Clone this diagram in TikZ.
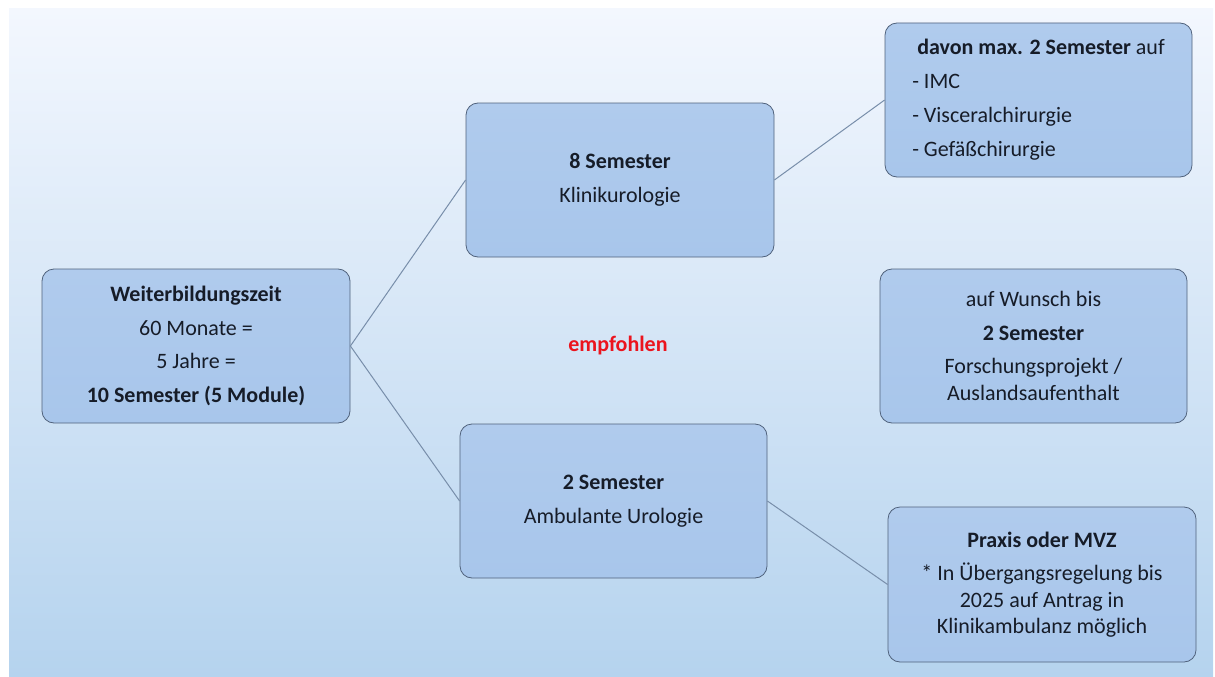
\documentclass[tikz,border=0pt]{standalone}
\usepackage{fontspec}
\setmainfont{Carlito}
\definecolor{bgtop}{RGB}{243,247,254}
\definecolor{bgbot}{RGB}{181,211,238}
\definecolor{boxtop}{RGB}{176,203,237}
\definecolor{boxbot}{RGB}{168,198,235}
\definecolor{boxline}{RGB}{80,98,124}
\definecolor{conn}{RGB}{120,142,170}
\definecolor{txt}{RGB}{22,28,40}
\definecolor{redtxt}{RGB}{235,20,30}
\begin{document}
\begin{tikzpicture}[x=1pt,y=-1pt,
  box/.style={draw=boxline, line width=0.8pt, rounded corners=12pt,
    top color=boxtop, bottom color=boxbot, text=txt,
    font=\fontsize{22}{26.5}\selectfont, align=center, inner sep=0pt,
    minimum width=307pt, minimum height=154pt,
    execute at begin node={\rule{0pt}{22pt}}},
  connector/.style={draw=conn, line width=1pt}]
\useasboundingbox (0,0) rectangle (1215,677);
\shade[top color=bgtop, bottom color=bgbot] (9,9) rectangle (1213,677);

\node[box, minimum width=308pt] (wbz) at (196,346)
  {\textbf{Weiterbildungszeit}\\[7pt]60 Monate =\\[7pt]5 Jahre =\\[7pt]\textbf{10 Semester (5 Module)}};
\node[box, minimum width=308pt] (klinik) at (620,180)
  {\textbf{8 Semester}\\[7pt]Klinikurologie};
\node[box] (ambul) at (613.5,501)
  {\textbf{2 Semester}\\[7pt]Ambulante Urologie};
\node[box, align=left] (davon) at (1038.5,100)
  {\hspace*{5pt}\textbf{davon max. 2 Semester} auf\\[7.5pt]- IMC\\[7.5pt]- Visceralchirurgie\\[7.5pt]- Gefäßchirurgie};
\node[box] (wunsch) at (1033.5,346)
  {auf Wunsch bis\\[7pt]\textbf{2 Semester}\\[7pt]Forschungsprojekt /\\Auslandsaufenthalt};
\node[box, minimum width=308pt, minimum height=155pt] (praxis) at (1042,584.5)
  {\textbf{Praxis oder MVZ}\\[7pt]* In Übergangsregelung bis\\2025 auf Antrag in\\Klinikambulanz möglich};

\node[text=redtxt, font=\fontsize{22}{26.5}\selectfont\bfseries] (empf) at (618,346) {empfohlen};

\draw[connector] (wbz.east) -- (klinik.west);
\draw[connector] (wbz.east) -- (ambul.west);
\draw[connector] (klinik.east) -- (davon.west);
\draw[connector] (ambul.east) -- (praxis.west);
\end{tikzpicture}
\end{document}
